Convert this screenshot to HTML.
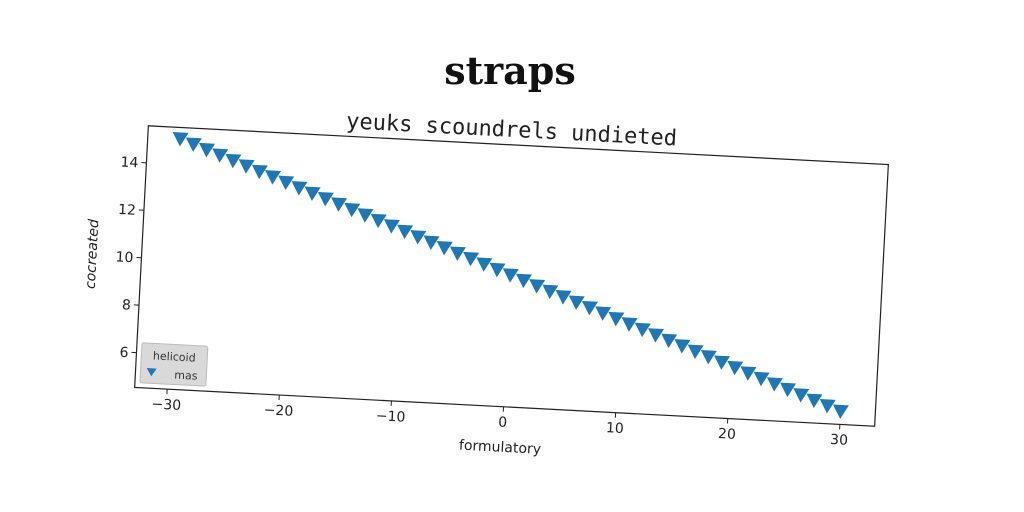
<!DOCTYPE html>
<html><head><meta charset="utf-8"><style>
html,body{margin:0;padding:0;background:#fff;width:1024px;height:512px;overflow:hidden}
svg{display:block}
</style></head><body>
<svg id="chart" width="1024" height="512" xmlns="http://www.w3.org/2000/svg">
<text x="510" y="84" text-anchor="middle" font-family="'DejaVu Serif','Liberation Serif',serif" font-weight="bold" font-size="38" fill="#111">straps</text>
<g id="axesg" transform="rotate(3 511 276)">
<text x="504" y="137" text-anchor="middle" font-family="'DejaVu Sans Mono','Liberation Mono',monospace" font-size="22" fill="#222">yeuks scoundrels undieted</text>
<rect x="141" y="145" width="741" height="262" fill="none" stroke="#222" stroke-width="1.2"/>
<g id="xt"></g><g id="yt"></g><g id="marks"></g>
<text x="509" y="452" text-anchor="middle" font-family="'DejaVu Sans','Liberation Sans',sans-serif" font-size="14" fill="#222">formulatory</text>
<text transform="translate(96 276) rotate(-90)" text-anchor="middle" font-family="'DejaVu Sans','Liberation Sans',sans-serif" font-size="14" font-style="italic" fill="#222">cocreated</text>
<g>
<rect x="146" y="362" width="66" height="40" rx="2" fill="#d9d9d9" stroke="#bbb"/>
<text x="179" y="378" text-anchor="middle" font-family="'DejaVu Sans','Liberation Sans',sans-serif" font-size="11" fill="#333">helicoid</text>
<path d="M152 387 L162 387 L157 395 Z" fill="#1f77b4"/>
<text x="180" y="396" font-family="'DejaVu Sans','Liberation Sans',sans-serif" font-size="11" fill="#333">mas</text>
</g>
</g>
</svg>
<script>
const xValues=[-30,-28.8,-27.6,-26.4,-25.2,-24,-22.8,-21.6,-20.4,-19.2,-18,-16.8,-15.6,-14.4,-13.2,-12,-10.8,-9.6,-8.4,-7.2,-6,-4.8,-3.6,-2.4,-1.2,0,1.2,2.4,3.6,4.8,6,7.2,8.4,9.6,10.8,12,13.2,14.4,15.6,16.8,18,19.2,20.4,21.6,22.8,24,25.2,26.4,27.6,28.8,30];
const yValues=[15.1,14.9,14.7,14.5,14.3,14.1,13.9,13.7,13.5,13.3,13.1,12.9,12.7,12.5,12.3,12.1,11.9,11.7,11.5,11.3,11.1,10.9,10.7,10.5,10.3,10.1,9.9,9.7,9.5,9.3,9.1,8.9,8.7,8.5,8.3,8.1,7.9,7.7,7.5,7.3,7.1,6.9,6.7,6.5,6.3,6.1,5.9,5.7,5.5,5.3,5.1];
const xTicks=[-30,-20,-10,0,10,20,30];
const yTicks=[6,8,10,12,14];
const X0=141,W=741,Y0=145,H=262,xmin=-32.9,xmax=33.1,ymin=4.53,ymax=15.56;
const sx=v=>X0+(v-xmin)/(xmax-xmin)*W;
const sy=v=>Y0+H-(v-ymin)/(ymax-ymin)*H;
const NS="http://www.w3.org/2000/svg";
function mk(t,a,p){const e=document.createElementNS(NS,t);for(const k in a)e.setAttribute(k,a[k]);p.appendChild(e);return e;}
const xt=document.getElementById('xt'),yt=document.getElementById('yt'),mg=document.getElementById('marks');
xTicks.forEach(v=>{
 const l=mk('line',{x1:sx(v),x2:sx(v),y1:Y0+H,y2:Y0+H+5,stroke:'#222'},xt);
 
 
 const t=mk('text',{x:sx(v),y:Y0+H+20,'text-anchor':'middle','font-family':"'DejaVu Sans','Liberation Sans',sans-serif",'font-size':14,fill:'#222'},xt);
 t.textContent=(v<0?'\u2212'+(-v):v);
 
 
});
yTicks.forEach(v=>{
 const l=mk('line',{x1:X0-5,x2:X0,y1:sy(v),y2:sy(v),stroke:'#222'},yt);
 
 
 const t=mk('text',{x:X0-8,y:sy(v)+5,'text-anchor':'end','font-family':"'DejaVu Sans','Liberation Sans',sans-serif",'font-size':14,fill:'#222'},yt);
 t.textContent=v;
 
 
});
xValues.forEach((v,i)=>{
 const cx=sx(v),cy=sy(yValues[i]);
 const p=mk('path',{d:`M${cx-8} ${cy-6} L${cx+8} ${cy-6} L${cx} ${cy+8} Z`,fill:'#1f77b4'},mg);
 
 
});
</script>
</body></html>
